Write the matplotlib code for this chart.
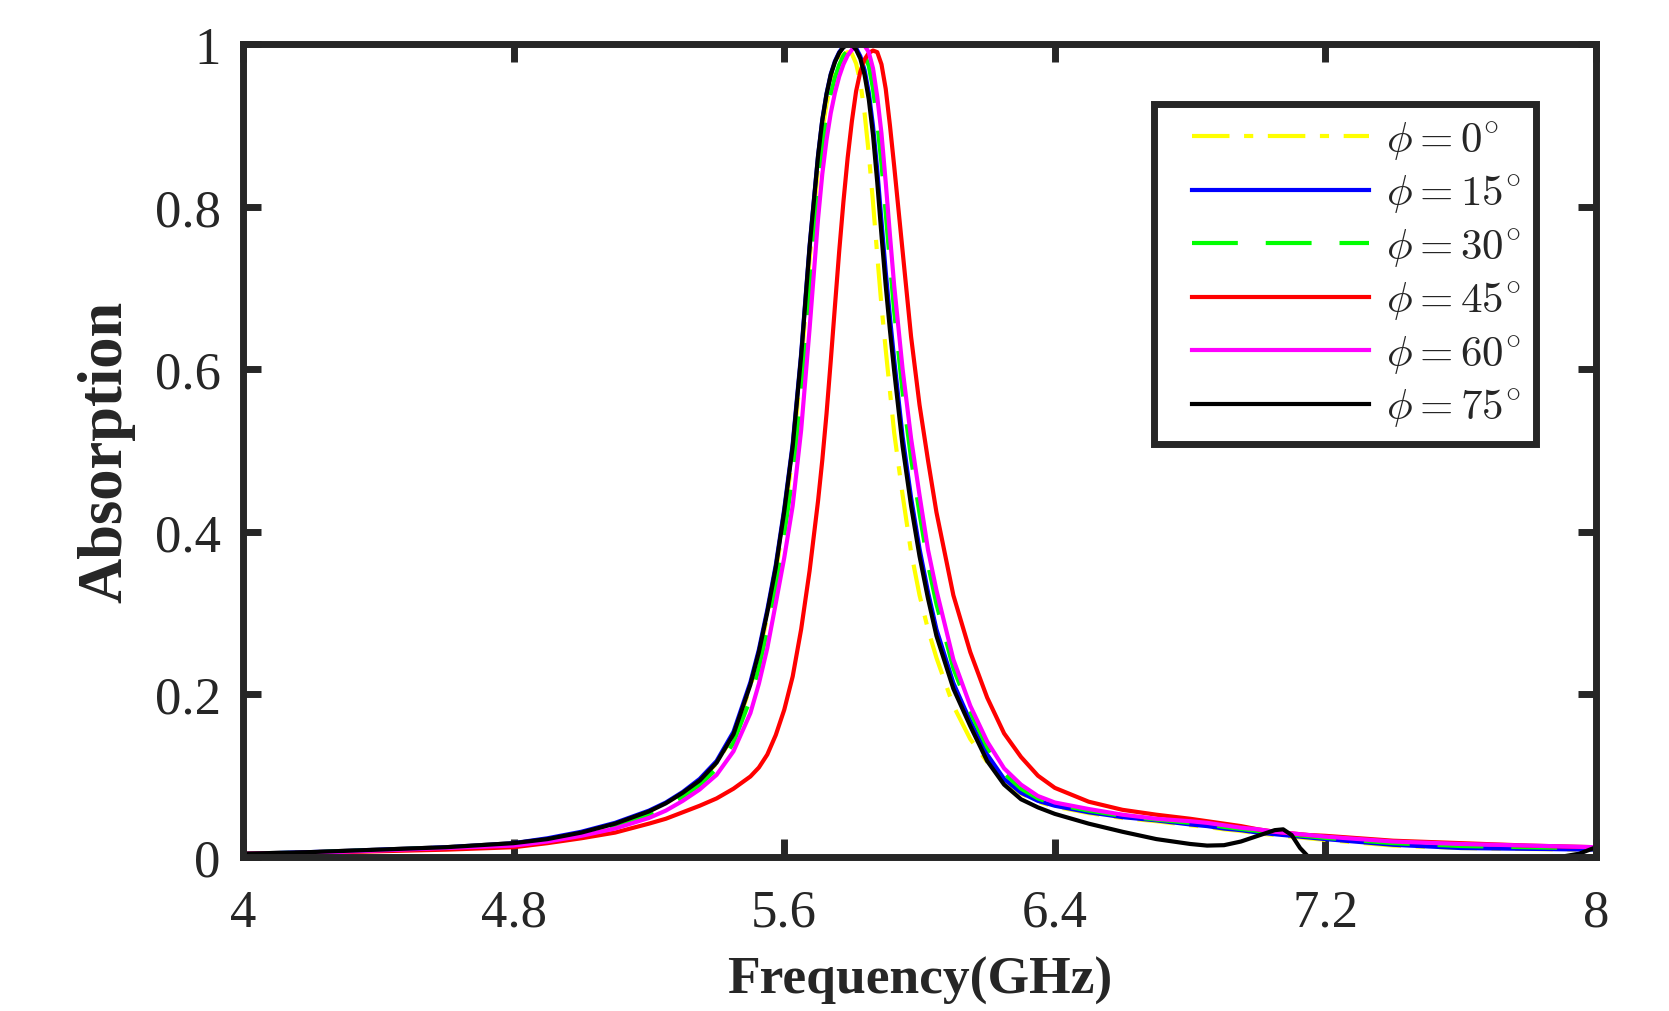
import numpy as np
import matplotlib
matplotlib.use('Agg')
import matplotlib.pyplot as plt
from matplotlib.lines import Line2D
from matplotlib.legend_handler import HandlerLine2D

# frequency grid (GHz), denser around the resonance
freq = [4.0, 4.2, 4.4, 4.6, 4.8, 4.9, 5.0, 5.1, 5.2, 5.25,
        5.3, 5.35, 5.4, 5.45, 5.5, 5.525, 5.55, 5.575, 5.6, 5.625,
        5.65, 5.675, 5.7, 5.7125, 5.725, 5.7375, 5.75, 5.7625, 5.775, 5.7875,
        5.8, 5.8125, 5.825, 5.8375, 5.85, 5.8625, 5.875, 5.8875, 5.9, 5.9125,
        5.925, 5.95, 5.975, 6.0, 6.025, 6.05, 6.1, 6.15, 6.2, 6.25,
        6.3, 6.35, 6.4, 6.5, 6.6, 6.7, 6.8, 6.85, 6.9, 6.95,
        7.0, 7.05, 7.075, 7.1, 7.125, 7.15, 7.2, 7.4, 7.6, 7.8,
        7.85, 7.9, 7.95, 8.0]

abs_0 = [0.004, 0.006, 0.009, 0.012, 0.017, 0.022, 0.030, 0.041, 0.056, 0.066,
         0.079, 0.094, 0.115, 0.150, 0.209, 0.248, 0.296, 0.350, 0.417, 0.495,
         0.603, 0.735, 0.848, 0.893, 0.926, 0.951, 0.968, 0.980, 0.987, 0.990,
         0.988, 0.976, 0.953, 0.915, 0.865, 0.805, 0.740, 0.678, 0.624, 0.573,
         0.522, 0.445, 0.375, 0.322, 0.280, 0.245, 0.186, 0.145, 0.117, 0.094,
         0.078, 0.068, 0.062, 0.054, 0.048, 0.044, 0.039, 0.037, 0.034, 0.032,
         0.029, 0.027, 0.026, 0.025, 0.024, 0.023, 0.021, 0.014, 0.011, 0.0098,
         0.0096, 0.0093, 0.009, 0.0088]

abs_15 = [0.004, 0.006, 0.009, 0.012, 0.017, 0.023, 0.031, 0.042, 0.057, 0.067,
          0.080, 0.096, 0.118, 0.154, 0.215, 0.255, 0.304, 0.359, 0.428, 0.508,
          0.619, 0.752, 0.863, 0.907, 0.939, 0.963, 0.979, 0.990, 0.997, 0.999,
          0.999, 0.995, 0.985, 0.968, 0.940, 0.899, 0.845, 0.782, 0.720, 0.664,
          0.612, 0.517, 0.442, 0.379, 0.326, 0.280, 0.214, 0.167, 0.126, 0.096,
          0.079, 0.069, 0.063, 0.055, 0.049, 0.045, 0.040, 0.038, 0.035, 0.033,
          0.030, 0.028, 0.027, 0.026, 0.025, 0.024, 0.022, 0.015, 0.011, 0.010,
          0.0098, 0.0095, 0.0092, 0.009]

abs_30 = [0.004, 0.0055, 0.0085, 0.0115, 0.0155, 0.021, 0.028, 0.038, 0.052, 0.0615,
          0.074, 0.0885, 0.1085, 0.1405, 0.1945, 0.2325, 0.279, 0.334, 0.3965, 0.4685,
          0.5705, 0.700, 0.8235, 0.873, 0.910, 0.9385, 0.959, 0.9745, 0.9855, 0.9925,
          0.996, 0.997, 0.994, 0.987, 0.973, 0.945, 0.9035, 0.8525, 0.792, 0.730,
          0.6715, 0.5715, 0.490, 0.4225, 0.360, 0.311, 0.232, 0.1785, 0.135, 0.103,
          0.084, 0.072, 0.065, 0.057, 0.0505, 0.046, 0.042, 0.040, 0.037, 0.0345,
          0.032, 0.0295, 0.0285, 0.0275, 0.0265, 0.0255, 0.0235, 0.017, 0.0135, 0.012,
          0.0116, 0.0113, 0.0109, 0.0105]

abs_45 = [0.004, 0.005, 0.007, 0.009, 0.012, 0.017, 0.023, 0.030, 0.041, 0.047,
          0.055, 0.063, 0.072, 0.084, 0.099, 0.110, 0.126, 0.150, 0.181, 0.222,
          0.280, 0.352, 0.438, 0.488, 0.545, 0.610, 0.678, 0.745, 0.806, 0.860,
          0.905, 0.942, 0.966, 0.981, 0.989, 0.992, 0.990, 0.975, 0.945, 0.900,
          0.850, 0.745, 0.640, 0.556, 0.488, 0.424, 0.322, 0.252, 0.196, 0.152,
          0.123, 0.100, 0.085, 0.068, 0.058, 0.052, 0.047, 0.044, 0.041, 0.038,
          0.034, 0.031, 0.030, 0.029, 0.028, 0.027, 0.026, 0.020, 0.017, 0.014,
          0.0135, 0.013, 0.0125, 0.012]

abs_60 = [0.004, 0.005, 0.008, 0.011, 0.014, 0.019, 0.026, 0.035, 0.048, 0.057,
          0.069, 0.083, 0.101, 0.130, 0.177, 0.213, 0.257, 0.312, 0.368, 0.432,
          0.525, 0.650, 0.785, 0.840, 0.882, 0.915, 0.940, 0.960, 0.975, 0.986,
          0.993, 0.997, 0.999, 0.998, 0.990, 0.970, 0.935, 0.890, 0.830, 0.765,
          0.703, 0.600, 0.515, 0.445, 0.378, 0.328, 0.243, 0.186, 0.142, 0.109,
          0.089, 0.075, 0.067, 0.059, 0.052, 0.047, 0.044, 0.042, 0.039, 0.036,
          0.034, 0.031, 0.030, 0.029, 0.028, 0.027, 0.025, 0.019, 0.016, 0.014,
          0.0135, 0.013, 0.0125, 0.012]

abs_75 = [0.004, 0.006, 0.009, 0.012, 0.017, 0.022, 0.030, 0.041, 0.056, 0.066,
          0.079, 0.094, 0.116, 0.151, 0.212, 0.252, 0.301, 0.356, 0.425, 0.505,
          0.616, 0.750, 0.862, 0.906, 0.938, 0.962, 0.978, 0.989, 0.996, 0.999,
          0.999, 0.993, 0.982, 0.962, 0.932, 0.888, 0.830, 0.765, 0.703, 0.648,
          0.598, 0.505, 0.432, 0.370, 0.318, 0.272, 0.207, 0.161, 0.118, 0.089,
          0.071, 0.061, 0.053, 0.041, 0.031, 0.022, 0.016, 0.014, 0.0145, 0.019,
          0.026, 0.033, 0.034, 0.027, 0.011, 0.0, 0.0, 0.0, 0.0, 0.0,
          0.0, 0.0005, 0.004, 0.012]

labels = [r'$\phi = 0^{\circ}$', r'$\phi = 15^{\circ}$', r'$\phi = 30^{\circ}$',
          r'$\phi = 45^{\circ}$', r'$\phi = 60^{\circ}$', r'$\phi = 75^{\circ}$']

plt.rcParams['font.family'] = 'Liberation Serif'
plt.rcParams['mathtext.fontset'] = 'cm'

dark = '#262626'
lw = 3

fig = plt.figure(figsize=(16.69, 10.12), dpi=100)
ax = fig.add_axes([0.1456, 0.1522, 0.8107, 0.8033])

ax.plot(freq, abs_0, color=(1, 1, 0), linewidth=lw, dashes=(9, 3.5, 2.2, 3.5), label=labels[0])
ax.plot(freq, abs_15, color=(0, 0, 1), linewidth=lw, label=labels[1])
ax.plot(freq, abs_30, color=(0, 1, 0), linewidth=lw, dashes=(11, 6.7), label=labels[2])
ax.plot(freq, abs_45, color=(1, 0, 0), linewidth=lw, label=labels[3])
ax.plot(freq, abs_60, color=(1, 0, 1), linewidth=lw, label=labels[4])
ax.plot(freq, abs_75, color='black', linewidth=lw, label=labels[5])

ax.set_xlim(4, 8)
ax.set_ylim(0, 1)
ax.set_xticks([4, 4.8, 5.6, 6.4, 7.2, 8])
ax.set_xticklabels(['4', '4.8', '5.6', '6.4', '7.2', '8'])
ax.set_yticks([0, 0.2, 0.4, 0.6, 0.8, 1])
ax.set_yticklabels(['0', '0.2', '0.4', '0.6', '0.8', '1'])

for s in ax.spines.values():
    s.set_linewidth(5)
    s.set_color(dark)
ax.tick_params(direction='in', length=13, width=5, color=dark, labelcolor=dark,
               labelsize=38, top=True, right=True)
ax.tick_params(axis='x', pad=23)
ax.tick_params(axis='y', pad=16)

ax.set_xlabel('Frequency(GHz)', fontsize=38.5, fontweight='bold', color=dark, labelpad=14)
ax.set_ylabel('Absorption', fontsize=45, fontweight='bold', color=dark, labelpad=14)

leg = ax.legend(loc='upper right', bbox_to_anchor=(0.9203, 0.8965), bbox_transform=fig.transFigure,
                fontsize=31, frameon=True, fancybox=False, borderaxespad=0,
                handlelength=4.64, handletextpad=0.4, labelspacing=0.25, borderpad=0.35,
                handler_map={Line2D: HandlerLine2D(xpad=0.52)})
fr = leg.get_frame()
fr.set_linewidth(5)
fr.set_edgecolor(dark)
fr.set_alpha(1)
for t in leg.get_texts():
    t.set_color(dark)

fig.savefig('out.png', dpi=100)
